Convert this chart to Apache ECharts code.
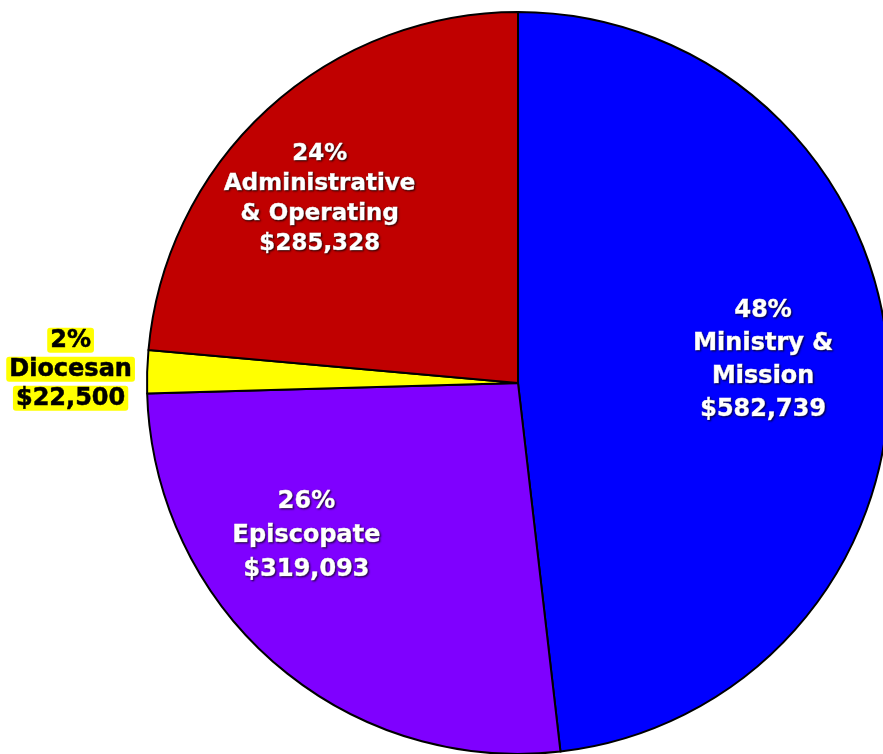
<!DOCTYPE html>
<html>
<head>
<meta charset="utf-8">
<script src="https://cdn.jsdelivr.net/npm/echarts@6/dist/echarts.min.js"></script>
<style>
html,body{margin:0;padding:0;background:#fff;}
#c{width:883px;height:754px;}
</style>
</head>
<body>
<div id="c"></div>
<script>
const categories = ["Ministry & Mission", "Episcopate", "Diocesan", "Administrative & Operating"];
const labelNames = ["Ministry &\nMission", "Episcopate", "Diocesan", "Administrative\n& Operating"];
const values = [582739, 319093, 22500, 285328];
const colors = ["#0000FF", "#7F00FF", "#FFFF00", "#C00000"];
// label styling (style only): nudges relative to ECharts' inside label position, font size, line height
const labelShift = [[57, -12], [-88, 10], [-259, -8], [-71, -45]];
const labelFont = [[24, 33], [24, 34], [24, 29], [23, 30]];

function fmt(v){ return "$" + v.toString().replace(/\B(?=(\d{3})+(?!\d))/g, ","); }

const chart = echarts.init(document.getElementById('c'), null, {renderer:'canvas'});
const data = categories.map((c, i) => {
  const item = { name: c, value: values[i], itemStyle: { color: colors[i] } };
  if (c === "Diocesan") {
    item.label = {
      position: 'inside',
      textShadowColor: 'transparent', textShadowBlur: 0, textShadowOffsetX: 0, textShadowOffsetY: 0,
      textBorderWidth: 0,
      formatter: p => ['{h|' + Math.round(p.percent) + '%}', '{h|' + labelNames[p.dataIndex] + '}', '{h|' + fmt(p.value) + '}'].join('\n'),
      rich: { h: { color: '#000', fontFamily: 'DejaVu Sans', fontWeight: 'bold', fontSize: labelFont[i][0], lineHeight: labelFont[i][1],
                   textBorderColor: '#000', textBorderWidth: 0.5,
                   textShadowColor: 'transparent', textShadowBlur: 0,
                   backgroundColor: '#FFFF00', borderRadius: 3, padding: [1, 3, 0, 3] } }
    };
  } else {
    item.label = {
      color: '#fff', fontFamily: 'DejaVu Sans', fontWeight: 'bold',
      fontSize: labelFont[i][0], lineHeight: labelFont[i][1],
      textBorderColor: '#fff', textBorderWidth: 0.6,
      textShadowColor: 'rgba(0,0,0,0.7)', textShadowBlur: 2, textShadowOffsetX: 1, textShadowOffsetY: 1
    };
  }
  return item;
});

chart.setOption({
  animation: false,
  backgroundColor: '#fff',
  series: [{
    type: 'pie',
    center: [518, 383],
    radius: [0, 371],
    startAngle: 90,
    clockwise: true,
    data: data,
    itemStyle: { borderColor: '#000', borderWidth: 2 },
    label: {
      show: true, position: 'inside', align: 'center',
      formatter: p => Math.round(p.percent) + '%\n' + labelNames[p.dataIndex] + '\n' + fmt(p.value)
    },
    labelLine: { show: false },
    labelLayout: p => ({ dx: labelShift[p.dataIndex][0], dy: labelShift[p.dataIndex][1] }),
    emphasis: { disabled: true }
  }]
});
</script>
</body>
</html>
